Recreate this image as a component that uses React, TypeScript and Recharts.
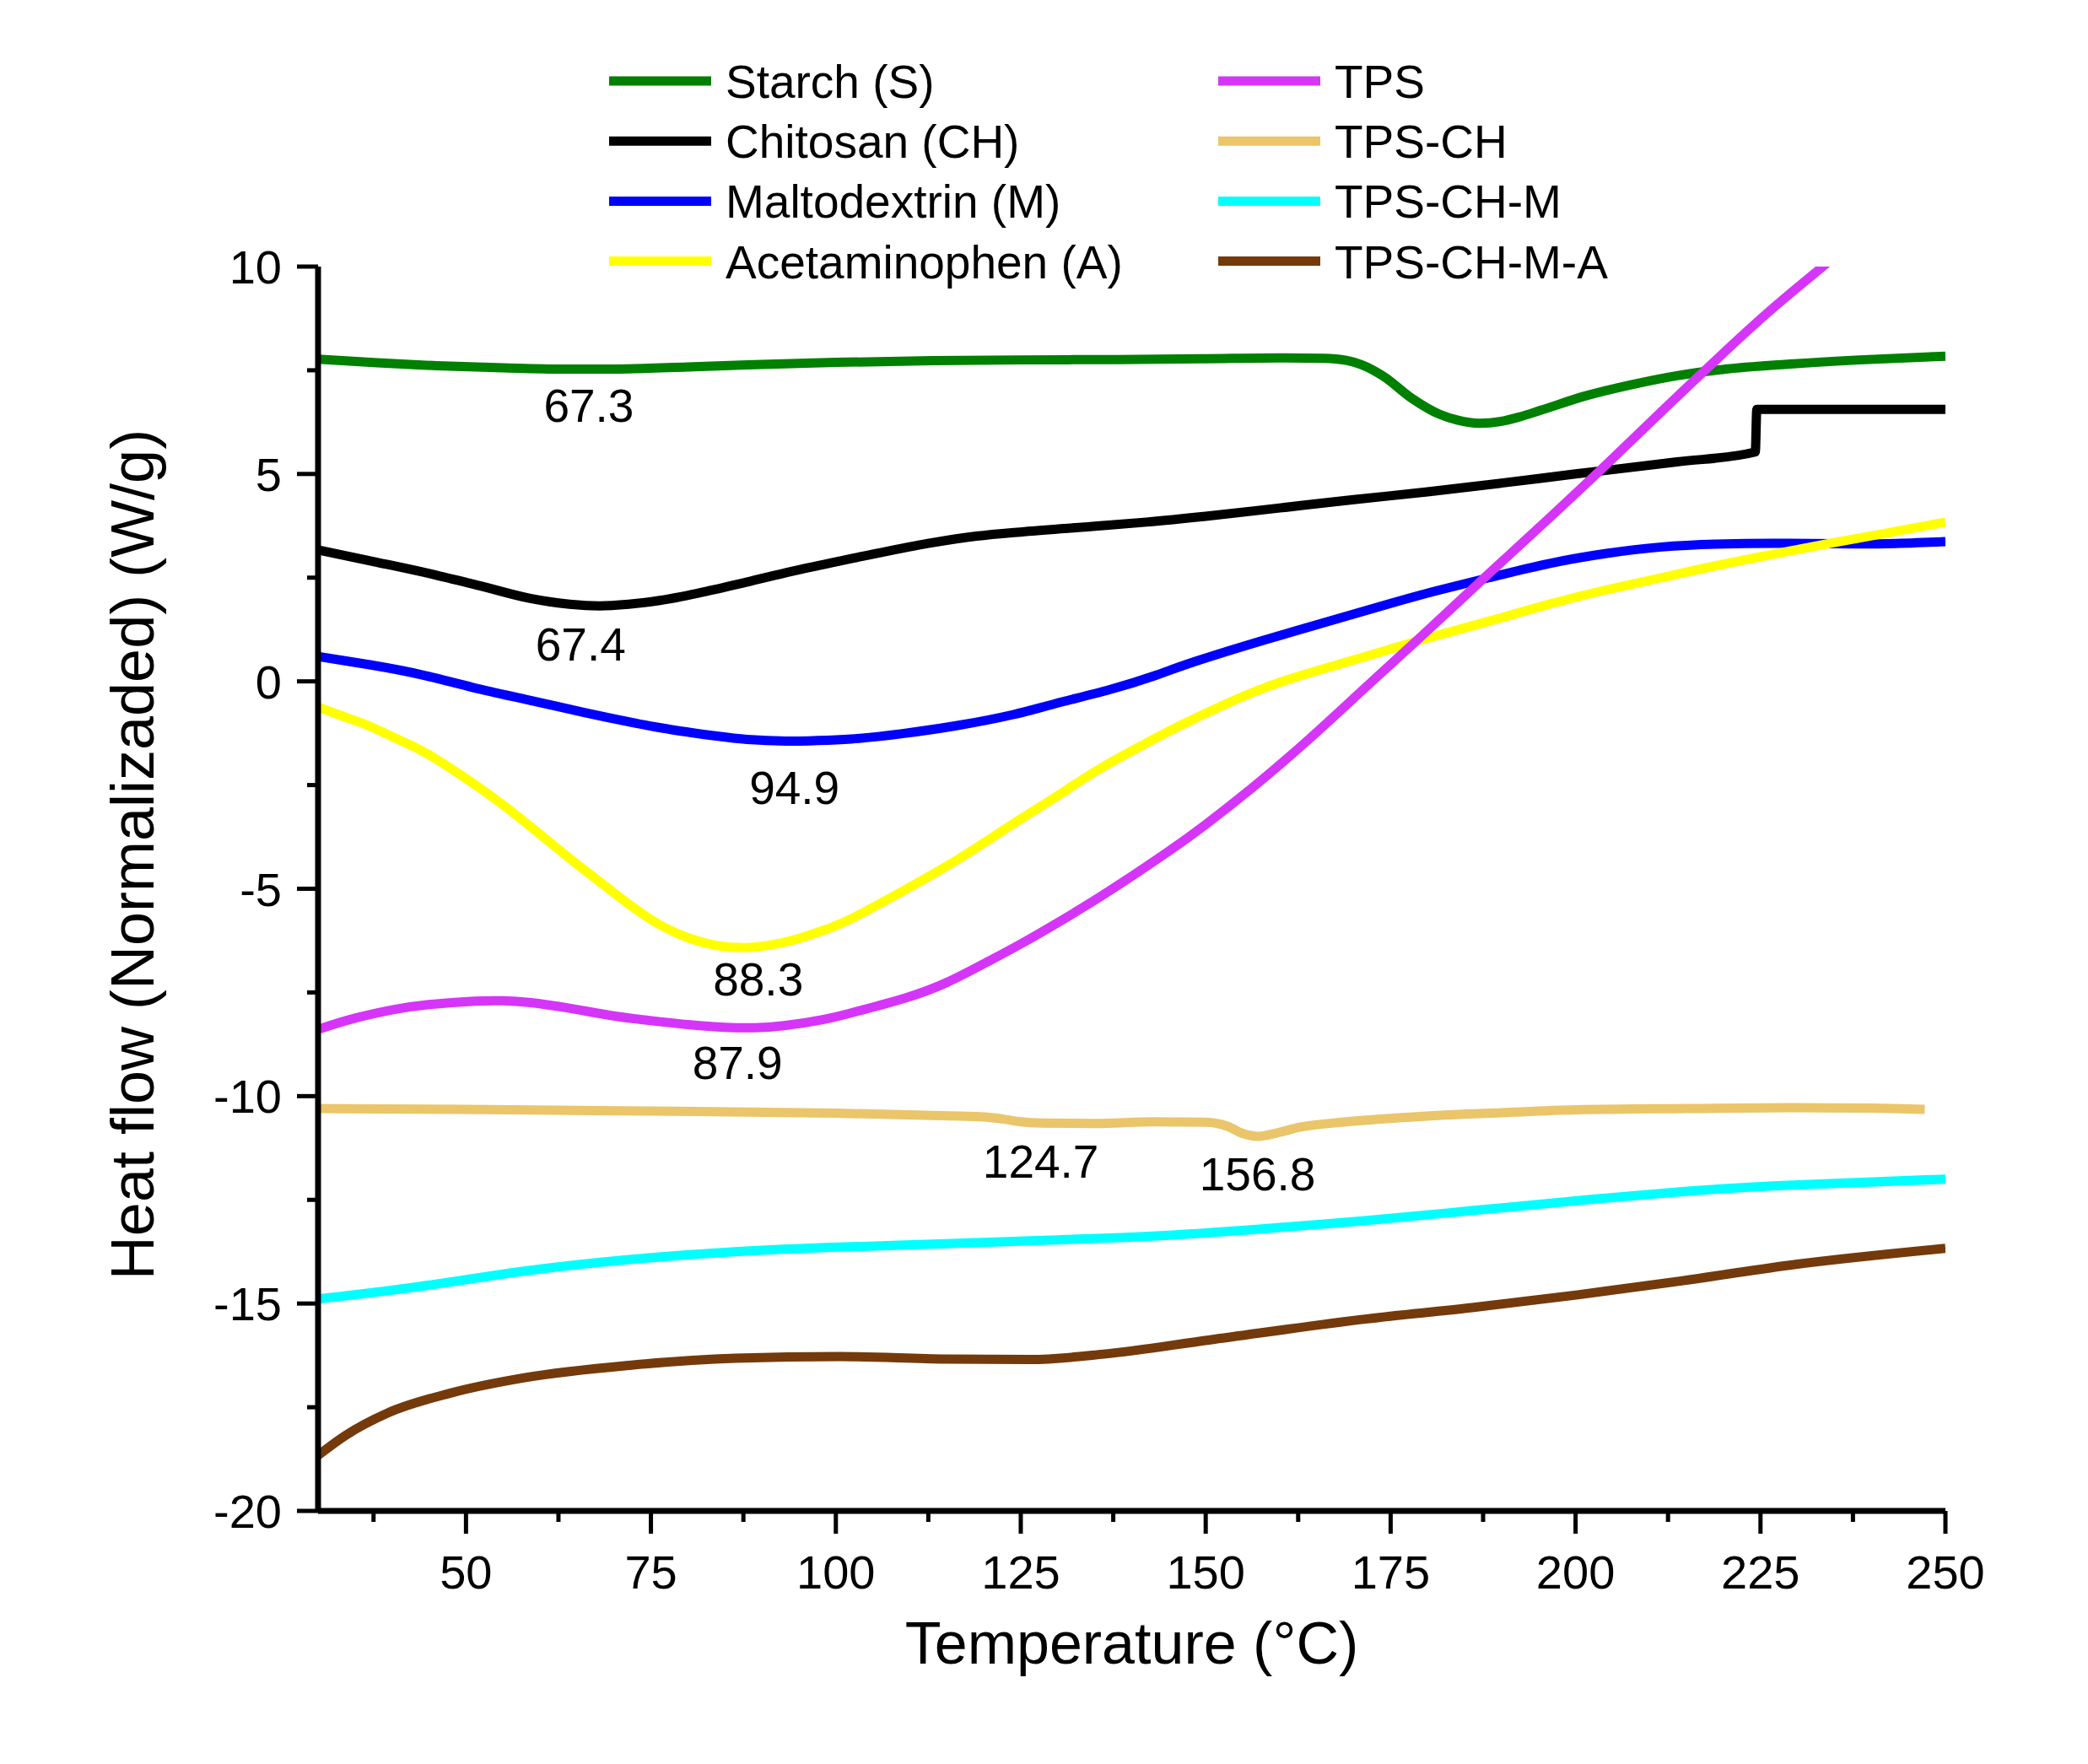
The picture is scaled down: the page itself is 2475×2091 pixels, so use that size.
import { LineChart, Line, XAxis, YAxis, Legend, ReferenceDot } from 'recharts'

const W = 2475
const H = 2091
const PLOT = { left: 377, top: 316, right: 2306, bottom: 1791 }
const FONT = '"Liberation Sans", Arial, Helvetica, sans-serif'

// axis ticks
const X_MAJOR = [50, 75, 100, 125, 150, 175, 200, 225, 250]
const X_MINOR = [37.5, 62.5, 87.5, 112.5, 137.5, 162.5, 187.5, 212.5, 237.5]
const Y_MAJOR = [-20, -15, -10, -5, 0, 5, 10]
const Y_MINOR = [-17.5, -12.5, -7.5, -2.5, 2.5, 7.5]

// [temperature °C, heat flow W/g]
const STARCH: [number, number][] = [
  [30, 7.77], [38, 7.68], [46, 7.61], [55, 7.56], [63, 7.53], [70, 7.53], [80, 7.58],
  [88, 7.63], [100, 7.69], [113, 7.73], [125, 7.75], [138, 7.76], [150, 7.78], [160, 7.8],
  [166, 7.79], [169, 7.74], [171, 7.64], [174, 7.36], [177.9, 6.82], [181.6, 6.44],
  [184, 6.3], [187, 6.22], [190, 6.27], [192.5, 6.38], [195.2, 6.53], [201.3, 6.88],
  [207.5, 7.15], [213.7, 7.37], [219.9, 7.52], [229, 7.65], [238.4, 7.75], [250, 7.84],
]
const CHITOSAN: [number, number][] = [
  [30, 3.17], [38, 2.87], [46, 2.56], [52, 2.3], [58.7, 2.0], [64, 1.86], [68, 1.82],
  [72, 1.86], [76.2, 1.95], [82, 2.15], [87.9, 2.39], [94, 2.65], [100.5, 2.9], [107, 3.14],
  [113, 3.34], [119, 3.5], [125.5, 3.61], [135, 3.74], [142, 3.84], [150, 3.98], [160, 4.18],
  [170, 4.38], [180, 4.57], [190, 4.78], [200, 5.0], [213.7, 5.29], [224.3, 5.53],
  [224.5, 6.56], [250, 6.56],
]
const MALTODEXTRIN: [number, number][] = [
  [30, 0.6], [37, 0.4], [44, 0.16], [51, -0.15], [58.5, -0.45], [66, -0.75], [73, -1.01],
  [78, -1.17], [83.9, -1.32], [88, -1.4], [93.3, -1.44], [97, -1.43], [102.1, -1.39],
  [109, -1.26], [116.6, -1.06], [124, -0.8], [129.6, -0.54], [137, -0.2], [143, 0.13],
  [148.6, 0.48], [158, 1.0], [167.6, 1.5], [175, 1.88], [181.1, 2.18], [188.3, 2.5],
  [196.4, 2.84], [204, 3.08], [211.6, 3.24], [219, 3.31], [226.9, 3.33], [235, 3.32],
  [242.2, 3.32], [250, 3.37],
]
const ACETAMINOPHEN: [number, number][] = [
  [30, -0.62], [33.5, -0.85], [36.7, -1.06], [40, -1.33], [44, -1.67], [47.5, -2.05],
  [51.2, -2.49], [55, -2.98], [58.5, -3.47], [62, -3.98], [65.8, -4.52], [69.5, -5.03],
  [73, -5.5], [76.5, -5.9], [80.3, -6.2], [84, -6.37], [87.5, -6.42], [91, -6.36],
  [94.8, -6.21], [98.5, -5.99], [102.1, -5.72], [109, -5.06], [116.6, -4.28], [124, -3.43],
  [129.6, -2.8], [135, -2.18], [141, -1.58], [146.5, -1.07], [152.4, -0.57], [158, -0.15],
  [163.8, 0.19], [169.5, 0.49], [175.2, 0.79], [181.1, 1.1], [188.3, 1.45], [196.4, 1.86],
  [204, 2.2], [211.6, 2.5], [219, 2.79], [226.9, 3.07], [234.5, 3.33], [242.2, 3.58],
  [250, 3.84],
]
const TPS: [number, number][] = [
  [30, -8.39], [35, -8.12], [40.3, -7.91], [45, -7.79], [51.2, -7.71], [55, -7.7],
  [58.5, -7.74], [64, -7.88], [69.4, -8.05], [75, -8.18], [80.3, -8.28], [85, -8.34],
  [89, -8.35], [93, -8.3], [98.4, -8.15], [103, -7.95], [109.3, -7.64], [115, -7.26],
  [120.2, -6.79], [125.5, -6.28], [131.1, -5.7], [137, -5.05], [144.8, -4.12], [150, -3.45],
  [156.2, -2.58], [163.8, -1.42], [171.4, -0.18], [179, 1.06], [188.3, 2.6], [196.4, 3.93],
  [204, 5.2], [211.6, 6.5], [219.3, 7.8], [226.9, 9.03], [234.1, 10.1], [242, 11.3],
]
const TPS_CH: [number, number][] = [
  [30, -10.3], [50, -10.32], [75, -10.36], [100, -10.41], [112, -10.46], [120, -10.5],
  [122.5, -10.55], [125, -10.62], [128, -10.65], [135, -10.66], [143, -10.62], [150, -10.63],
  [153, -10.73], [155, -10.9], [157, -10.97], [159.6, -10.89], [162.7, -10.75], [169, -10.62],
  [180, -10.48], [190, -10.4], [200, -10.33], [215, -10.3], [230, -10.28], [240, -10.29],
  [247.2, -10.32],
]
const TPS_CH_M: [number, number][] = [
  [30, -14.89], [43.7, -14.59], [57.9, -14.22], [72.1, -13.94], [86.4, -13.75],
  [100.6, -13.64], [114.9, -13.56], [129.1, -13.47], [143.3, -13.37], [157.6, -13.2],
  [171.8, -13.0], [186, -12.76], [200.3, -12.52], [214.5, -12.3], [228.7, -12.15],
  [250, -12.0],
]
const TPS_CH_M_A: [number, number][] = [
  [30, -18.66], [33.7, -18.18], [39.4, -17.64], [47.9, -17.16], [57.9, -16.79],
  [72.1, -16.49], [86.4, -16.32], [100.6, -16.28], [114.9, -16.34], [126.2, -16.35],
  [136.2, -16.22], [150.4, -15.88], [171.8, -15.37], [186, -15.1], [200.3, -14.79],
  [214.5, -14.45], [228.7, -14.08], [250, -13.67],
]

// peak annotations: [x, y, text]
const PEAKS: [number, number, string][] = [
  [66.6, 6.65, '67.3'],
  [65.5, 0.89, '67.4'],
  [94.4, -2.55, '94.9'],
  [89.5, -7.17, '88.3'],
  [86.7, -9.19, '87.9'],
  [127.7, -11.56, '124.7'],
  [157.0, -11.88, '156.8'],
]

const SERIES = [
  { name: 'Starch (S)', color: '#008000', points: STARCH, curve: 'monotone' },
  { name: 'Chitosan (CH)', color: '#000000', points: CHITOSAN, curve: 'monotone' },
  { name: 'Maltodextrin (M)', color: '#0000ff', points: MALTODEXTRIN, curve: 'natural' },
  { name: 'Acetaminophen (A)', color: '#ffff00', points: ACETAMINOPHEN, curve: 'natural' },
  { name: 'TPS', color: '#d535f9', points: TPS, curve: 'natural' },
  { name: 'TPS-CH', color: '#eac56a', points: TPS_CH, curve: 'monotone' },
  { name: 'TPS-CH-M', color: '#00ffff', points: TPS_CH_M, curve: 'natural' },
  { name: 'TPS-CH-M-A', color: '#743a0b', points: TPS_CH_M_A, curve: 'monotone' },
]
const ORDER = SERIES.map((s) => s.name)

function YTick(props: any) {
  const { y, payload } = props
  const major = Y_MAJOR.includes(payload.value)
  const len = major ? 25 : 13
  return (
    <g>
      <line x1={PLOT.left - len} x2={PLOT.left} y1={y} y2={y} stroke="#000" strokeWidth={5} />
      {major && (
        <text x={PLOT.left - 43} y={y + 20} textAnchor="end" fontSize={56} fill="#000">
          {payload.value}
        </text>
      )}
    </g>
  )
}

function XTick(props: any) {
  const { x, payload } = props
  const major = X_MAJOR.includes(payload.value)
  const len = major ? 27 : 13
  return (
    <g>
      <line x1={x} x2={x} y1={PLOT.bottom} y2={PLOT.bottom + len} stroke="#000" strokeWidth={5} />
      {major && (
        <text x={x} y={PLOT.bottom + 92} textAnchor="middle" fontSize={56} fill="#000">
          {payload.value}
        </text>
      )}
    </g>
  )
}

function XTitle() {
  return (
    <text x={(PLOT.left + PLOT.right) / 2} y={1972} textAnchor="middle" fontSize={70} fill="#000">
      Temperature (°C)
    </text>
  )
}

function YTitle() {
  return (
    <text transform="translate(182, 1013) rotate(-90)" textAnchor="middle" fontSize={72} fill="#000">
      Heat flow (Normalizaded) (W/g)
    </text>
  )
}

function LegendBox({ payload }: any) {
  const items = [...(payload || [])].sort((a: any, b: any) => ORDER.indexOf(a.value) - ORDER.indexOf(b.value))
  return (
    <svg width={W} height={360} style={{ display: 'block', fontFamily: FONT }}>
      {items.map((p: any, i: number) => {
        const lx = i < 4 ? 722 : 1444
        const ly = 96 + (i % 4) * 71.2
        return (
          <g key={p.value}>
            <line x1={lx} x2={lx + 121} y1={ly} y2={ly} stroke={p.color} strokeWidth={11} />
            <text x={lx + 138} y={ly + 20} fontSize={55} fill="#000">
              {p.value}
            </text>
          </g>
        )
      })}
    </svg>
  )
}

export default function App() {
  const yAxisW = 150
  const xAxisH = 150
  return (
    <div style={{ position: 'absolute', left: 0, top: 0, width: W, height: H, background: '#fff', fontFamily: FONT }}>
      <LineChart
        width={W}
        height={H}
        margin={{
          top: PLOT.top,
          left: PLOT.left - yAxisW,
          right: W - PLOT.right,
          bottom: H - PLOT.bottom - xAxisH,
        }}
        style={{ fontFamily: FONT }}
      >
        <XAxis
          type="number"
          dataKey="t"
          domain={[30, 250]}
          allowDataOverflow
          ticks={[...X_MAJOR, ...X_MINOR].sort((a, b) => a - b)}
          interval={0}
          height={xAxisH}
          tickLine={false}
          axisLine={{ stroke: '#000', strokeWidth: 7 }}
          tick={<XTick />}
          label={<XTitle />}
        />
        <YAxis
          type="number"
          dataKey="v"
          domain={[-20, 10]}
          allowDataOverflow
          ticks={[...Y_MAJOR, ...Y_MINOR].sort((a, b) => a - b)}
          interval={0}
          width={yAxisW}
          tickLine={false}
          axisLine={{ stroke: '#000', strokeWidth: 7 }}
          tick={<YTick />}
          label={<YTitle />}
        />
        <Legend
          layout="horizontal"
          verticalAlign="middle"
          align="center"
          wrapperStyle={{ position: 'absolute', left: 0, top: 0, width: W, height: 360 }}
          content={<LegendBox />}
        />
        {SERIES.map((s) => (
          <Line
            key={s.name}
            name={s.name}
            data={s.points.map(([t, v]) => ({ t, v }))}
            dataKey="v"
            type={s.curve as any}
            stroke={s.color}
            strokeWidth={11}
            dot={false}
            activeDot={false}
            isAnimationActive={false}
          />
        ))}
        {PEAKS.map(([t, v, text]) => (
          <ReferenceDot
            key={text}
            x={t}
            y={v}
            r={0}
            fill="none"
            stroke="none"
            label={{ value: text, position: 'center', fontSize: 55, fill: '#000' }}
          />
        ))}
      </LineChart>
    </div>
  )
}
